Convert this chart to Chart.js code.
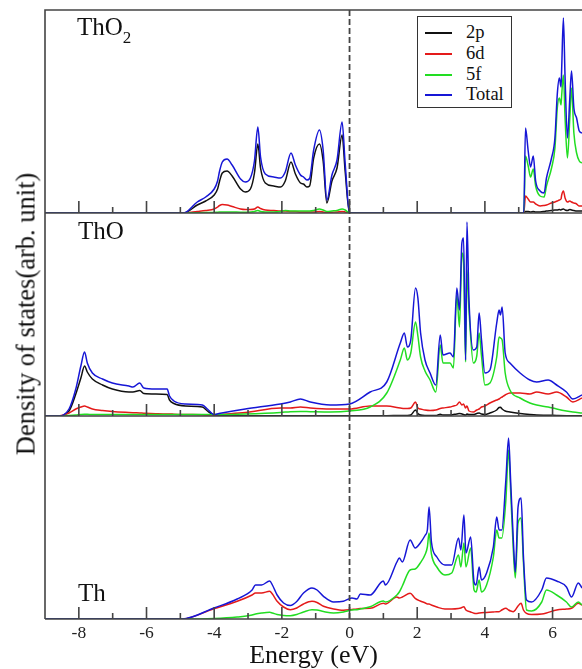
<!DOCTYPE html>
<html>
<head>
<meta charset="utf-8">
<script src="https://cdn.jsdelivr.net/npm/chart.js@4.4.1/dist/chart.umd.min.js"></script>
<style>
  html, body { margin: 0; padding: 0; background: #ffffff; }
  #wrap {
    position: relative; width: 582px; height: 669px; overflow: hidden;
    font-family: 'Liberation Serif', 'Times New Roman', serif; color: #111111;
  }
  #dos { position: absolute; left: 0; top: 0; }
  .panel-label { position: absolute; font-size: 25px; line-height: 25px; white-space: nowrap; }
  .panel-label span { font-size: 17px; position: relative; top: 8px; }
  #ylabel {
    position: absolute; left: 26px; top: 314px; font-size: 26.5px; white-space: nowrap;
    transform: translate(-50%, -50%) rotate(-90deg);
  }
  #legend {
    position: absolute; left: 417px; top: 16px; width: 95px; height: 92px;
    box-sizing: border-box; border: 1.5px solid #333333; background: #ffffff;
  }
  .lg-row { position: absolute; left: 0; height: 20px; width: 100%; }
  .lg-line { position: absolute; left: 7px; top: 9px; width: 27px; height: 2px; }
  .lg-text { position: absolute; left: 48px; top: -1px; font-size: 18.5px; line-height: 20px; }
</style>
</head>
<body>
<div id="wrap">
  <canvas id="dos" width="582" height="669"></canvas>
  <div class="panel-label" style="left:77px; top:14px;">ThO<span>2</span></div>
  <div class="panel-label" style="left:78px; top:218px;">ThO</div>
  <div class="panel-label" style="left:78px; top:580px;">Th</div>
  <div id="ylabel">Density of states(arb. unit)</div>
  <div id="legend"></div>
</div>
<script>
// Projected DOS of ThO2, ThO and Th (arb. units)

const seriesNames = ['2p', '6d', '5f', 'Total'];
const seriesColors = ['#111111', '#e41a1a', '#22dd22', '#1616d6'];

const majorTicks = [-8, -6, -4, -2, 0, 2, 4, 6];
const minorTicks = [-7, -5, -3, -1, 1, 3, 5];

// ThO2
const tho2Energy = [-9, -4.9, -4.5, -4.25, -4.0, -3.9, -3.84, -3.76, -3.62, -3.47,
  -3.22, -3.08, -2.93, -2.81, -2.71, -2.63, -2.49, -2.24, -2.04, -1.9,
  -1.73, -1.6, -1.45, -1.36, -1.26, -1.18, -1.06, -0.89, -0.78, -0.67,
  -0.52, -0.37, -0.22, -0.13, 0, 5.15, 5.2, 5.28, 5.35, 5.43,
  5.5, 5.63, 5.75, 5.82, 5.97, 6.07, 6.14, 6.2, 6.25, 6.27,
  6.32, 6.37, 6.44, 6.51, 6.56, 6.63, 6.71, 6.79, 6.87];
const tho2Total = [0, 0, 11, 16, 24, 32, 42, 51, 54, 48,
  34, 31, 35, 52, 86, 56, 39, 36, 35, 41,
  60, 48, 38, 36, 33, 34.5, 63, 83, 63, 13,
  38, 53, 91, 50, 0, 0, 85, 62, 46, 57,
  32, 22, 20, 35, 55, 75, 119, 135, 126, 145,
  195, 135, 75, 115, 142, 105, 95, 82, 80];
const tho2_2p = [0, 0, 8, 12, 18, 24, 32, 40, 42, 37,
  24, 21, 24, 40, 69, 45, 30, 27, 26, 32,
  51, 39, 30, 29, 26, 27, 55, 69, 52, 10,
  32, 45, 78, 42, 0, 0, 1.5, 1.5, 1, 1.5,
  1, 1, 1.5, 2, 2.5, 3, 3, 3.5, 3, 3.5,
  4, 3, 2.5, 3.5, 3, 2.5, 2, 2, 2];
const tho2_6d = [0, 0, 1.5, 2.5, 4, 6, 7.5, 8.5, 8, 6.5,
  4, 3.5, 3.5, 4, 6, 4.5, 3, 2.5, 2, 2,
  1.5, 1.5, 1, 1, 1, 1, 1, 1.5, 1, 0.5,
  0.8, 1, 1.5, 1, 0, 0, 17, 14, 11, 11,
  9, 7, 7.5, 8, 10, 11, 12, 13, 14, 18,
  22, 15, 11, 12, 11, 10, 9, 7, 7];
const tho2_5f = [0, 0, 0.3, 0.4, 0.5, 0.8, 0.9, 1, 1, 1,
  0.8, 0.8, 1, 1.5, 2.5, 1.5, 1, 1, 1.5, 2.5,
  2, 2, 2, 2, 2, 2, 2.5, 4, 3, 1.5,
  2, 2.5, 4, 3, 0, 0, 57, 47, 36, 44,
  27, 17, 16, 27, 45, 65, 105, 115, 108, 118,
  138, 95, 55, 95, 125, 80, 60, 52, 50];

// ThO
const thoEnergy = [-9, -8.63, -8.29, -8.09, -7.94, -7.83, -7.75, -7.6, -7.3, -7.01,
  -6.52, -6.4, -6.2, -6.08, -5.73, -5.39, -5.32, -5.19, -4.85, -4.35,
  -4.2, -4.01, -3.86, -3.08, -2.04, -1.75, -1.45, -1.16, -0.57, 0,
  0.61, 1.1, 1.5, 1.62, 1.71, 1.81, 1.95, 2.02, 2.1, 2.23,
  2.38, 2.55, 2.68, 2.76, 2.97, 3.07, 3.17, 3.25, 3.32, 3.37,
  3.43, 3.47, 3.53, 3.66, 3.76, 3.83, 3.9, 4.0, 4.15, 4.35,
  4.42, 4.46, 4.51, 4.6, 4.74, 5.04, 5.33, 5.53, 5.87, 6.12,
  6.41, 6.6, 6.87];
const thoTotal = [0, 0, 7, 27, 50, 64, 53, 43, 37, 33,
  30, 29, 33, 28, 27, 27, 20, 15, 12, 11,
  7, 1.5, 2.5, 7, 12, 14, 17, 14, 11, 12,
  24, 34, 73, 83, 69, 76, 128, 118, 83, 56,
  43, 31, 81, 61, 63, 59, 128, 106, 173, 178,
  56, 194, 116, 66, 69, 103, 76, 43, 46, 93,
  106, 101, 109, 63, 53, 43, 36, 34, 36, 31,
  24, 17, 21];
const tho_2p = [0, 0, 5, 22, 38, 50, 44, 37, 31, 27,
  24, 24, 25.5, 22.5, 22, 21.5, 16, 12.5, 10, 9,
  5, 1, 0.5, 0.3, 0.3, 0.3, 0.3, 0.3, 0.3, 0.3,
  0.3, 0.3, 0.5, 0.5, 0.5, 1, 6, 2.5, 1, 0.5,
  0.5, 0.5, 1.7, 1, 1, 1.5, 2, 2.5, 2, 1.5,
  1, 2, 1.5, 1.5, 2.5, 3, 2, 1.5, 3, 6,
  8.5, 8.7, 7, 5, 4, 2.5, 1.5, 1, 0.8, 0.5,
  0.3, 0.3, 0.3];
const tho_6d = [0, 0, 3, 7, 9, 10, 9, 7, 5.5, 4.5,
  3.5, 3.3, 3, 2.8, 2.3, 2, 2, 1.8, 1.5, 1.2,
  1, 1, 1.5, 3.5, 8, 8, 9, 8, 7, 7,
  10, 10, 8, 7.5, 7.5, 8, 14, 8, 7, 6,
  5.5, 6, 7.5, 8, 9, 10, 11, 14, 11, 12,
  8, 10, 5, 4, 6, 7, 9, 10, 13, 16,
  17, 18, 19, 21, 23, 23, 22, 24, 22, 24,
  19, 14, 18];
const tho_5f = [0, 0, 0.5, 1, 1.5, 1.7, 1.7, 1.5, 1.5, 1.5,
  1.5, 1.5, 1.5, 1.5, 1.5, 1.5, 1.5, 1.5, 1.5, 1.5,
  1.5, 1.5, 1.5, 2, 3.5, 4.3, 4.5, 4.3, 4, 5,
  9, 23, 56, 68, 56, 63, 94, 80, 59, 45,
  36, 24, 71, 53, 53, 48, 121, 89, 163, 153,
  54, 146, 106, 53, 60, 83, 60, 31, 33, 59,
  79, 78, 76, 43, 26, 18, 13, 11, 9, 7,
  5, 4, 3];

// Th
const thEnergy = [-9, -4.95, -4.01, -3.32, -2.88, -2.78, -2.6, -2.36, -2.28, -2.14,
  -1.95, -1.75, -1.56, -1.36, -1.11, -0.96, -0.77, -0.47, -0.18, 0.07,
  0.22, 0.32, 0.61, 1.0, 1.06, 1.4, 1.47, 1.56, 1.79, 1.94,
  2.09, 2.24, 2.3, 2.35, 2.42, 2.58, 2.82, 3.02, 3.22, 3.29,
  3.38, 3.44, 3.58, 3.68, 3.74, 3.83, 3.9, 4.05, 4.25, 4.35,
  4.42, 4.5, 4.62, 4.7, 4.76, 4.84, 4.9, 4.98, 5.07, 5.14,
  5.23, 5.38, 5.68, 5.82, 6.12, 6.41, 6.56, 6.76, 6.87];
const thTotal = [0, 0, 11, 20, 29, 34, 34, 38, 34, 24,
  16, 13.5, 17.5, 26, 31, 29, 22.7, 17, 17.7, 21,
  20, 25, 24, 38, 34, 57, 61, 57, 79, 71,
  76, 84, 89, 112, 77, 62, 54, 54, 81, 69,
  104, 66, 82, 37, 34, 52, 39, 46, 72, 102,
  89, 89, 139, 181, 139, 79, 47, 112, 121, 62,
  19, 17, 29, 41, 38, 32, 22, 36, 31];
const th_6d = [0, 0, 10.3, 17.7, 24, 26, 26, 27.7, 25, 17.7,
  12, 9.3, 11, 15, 17.7, 16.5, 12.7, 10, 8.7, 9.5,
  10, 10.5, 10.7, 15.7, 15, 22, 21, 22, 25.7, 20.7,
  18, 16, 15, 15, 14, 12, 10, 10, 10.5, 11,
  12.3, 9, 7, 5.7, 5.5, 6, 6.3, 6.5, 7, 7.3,
  7.3, 9, 10.7, 9, 8, 7.3, 9, 13, 15.7, 9,
  5.7, 4.5, 5, 6, 9, 10, 10.7, 15.7, 14];
const th_5f = [0, 0, 0.5, 2, 4, 5, 6, 6.7, 6, 4.5,
  3.5, 3.3, 4.5, 7, 9.3, 9, 7.5, 6, 7, 9,
  9.3, 10, 12.3, 18, 17, 24, 27, 33, 49, 50,
  56, 65, 72, 86, 65, 52, 44, 46, 64, 52,
  76, 52, 71, 29, 27, 39, 27, 34, 62, 89,
  81, 81, 119, 169, 129, 69, 41, 96, 101, 56,
  9, 8, 17, 29, 24, 17, 12, 17, 14];

// Panels, top to bottom; Th has no O 2p states
const panels = [
  { axis: 'yThO2', energy: tho2Energy, series: [tho2_2p, tho2_6d, tho2_5f, tho2Total] },
  { axis: 'yThO', energy: thoEnergy, series: [tho_2p, tho_6d, tho_5f, thoTotal] },
  { axis: 'yTh', energy: thEnergy, series: [null, th_6d, th_5f, thTotal] }
];

const AXIS_COLOR = '#444444';
const FONT = "'Liberation Serif', 'Times New Roman', serif";

// Build datasets; Total is drawn on top
const datasets = [];
panels.forEach(p => {
  p.series.forEach((vals, k) => {
    if (!vals) return;
    datasets.push({
      label: seriesNames[k],
      yAxisID: p.axis,
      data: p.energy.map((e, i) => ({ x: e, y: vals[i] })),
      borderColor: seriesColors[k],
      borderWidth: 1.5,
      pointRadius: 0,
      cubicInterpolationMode: 'monotone',
      fill: false,
      order: 3 - k
    });
  });
});

// Frame, inward ticks on each panel and the dashed Fermi level
const panelFrame = {
  id: 'panelFrame',
  afterDatasetsDraw(chart) {
    const { ctx, chartArea: a, scales } = chart;
    const x = scales.x;
    ctx.save();
    ctx.strokeStyle = AXIS_COLOR;
    ctx.lineWidth = 1.6;
    ctx.beginPath();
    ctx.moveTo(a.right, a.top);
    ctx.lineTo(a.left, a.top);
    ctx.lineTo(a.left, a.bottom);
    ctx.stroke();

    panels.forEach(p => {
      const yb = scales[p.axis].bottom;
      ctx.beginPath();
      ctx.moveTo(a.left, yb);
      ctx.lineTo(a.right, yb);
      majorTicks.forEach(v => {
        const px = x.getPixelForValue(v);
        ctx.moveTo(px, yb);
        ctx.lineTo(px, yb - 12);
      });
      minorTicks.forEach(v => {
        const px = x.getPixelForValue(v);
        ctx.moveTo(px, yb);
        ctx.lineTo(px, yb - 6);
      });
      ctx.stroke();
    });

    const x0 = x.getPixelForValue(0);
    ctx.setLineDash([6, 3]);
    ctx.lineWidth = 1.8;
    ctx.beginPath();
    ctx.moveTo(x0, a.top);
    ctx.lineTo(x0, a.bottom);
    ctx.stroke();
    ctx.restore();
  }
};

const yAxis = {
  type: 'linear',
  display: false,
  stack: 'panels',
  stackWeight: 1,
  min: 0,
  max: 203
};

function initDosChart() {
  const ctx = document.getElementById('dos');
  new Chart(ctx, {
    type: 'line',
    data: { datasets: datasets },
    options: {
      responsive: false,
      animation: false,
      layout: { padding: { left: 45, top: 10, right: 0, bottom: 0 } },
      plugins: {
        legend: { display: false },
        tooltip: { enabled: false }
      },
      scales: {
        x: {
          type: 'linear',
          min: -9,
          max: 6.87,
          afterBuildTicks: (scale) => {
            scale.ticks = majorTicks.map(v => ({ value: v }));
          },
          grid: { display: false, drawTicks: false },
          border: { display: false },
          ticks: {
            padding: 4,
            color: '#222222',
            font: { family: FONT, size: 17.5 },
            callback: (v) => String(v)
          },
          title: {
            display: true,
            text: 'Energy (eV)',
            color: '#111111',
            padding: { top: -5, bottom: 0 },
            font: { family: FONT, size: 26, lineHeight: 1.0 }
          }
        },
        yTh: { ...yAxis },
        yThO: { ...yAxis },
        yThO2: { ...yAxis }
      }
    },
    plugins: [panelFrame]
  });

  // Legend box
  const legend = document.getElementById('legend');
  seriesNames.forEach((name, k) => {
    const row = document.createElement('div');
    row.className = 'lg-row';
    row.style.top = (6 + k * 20.8) + 'px';
    row.innerHTML = '<div class="lg-line" style="background:' + seriesColors[k] +
      '"></div><div class="lg-text">' + name + '</div>';
    legend.appendChild(row);
  });
}

if (document.readyState === 'loading') {
  document.addEventListener('DOMContentLoaded', initDosChart);
} else {
  initDosChart();
}
</script>
</body>
</html>
